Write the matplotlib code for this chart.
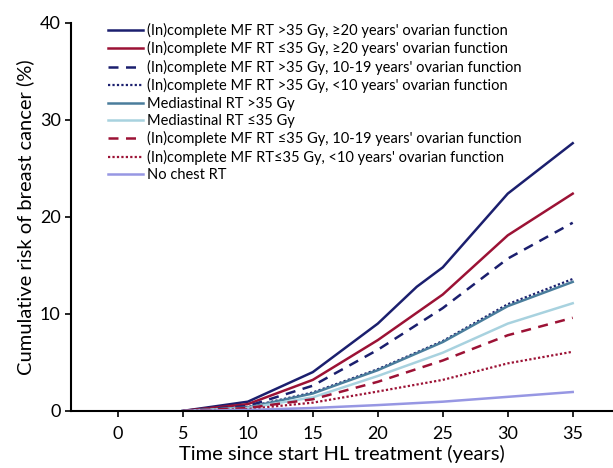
import matplotlib
matplotlib.use('Agg')
import matplotlib.pyplot as plt

plt.rcParams['font.family'] = ['Lato', 'DejaVu Sans']

# Data (years since start HL treatment vs cumulative risk %)
years = [5, 10, 15, 20, 25, 30, 35]
years_mf_hi = [5, 10, 15, 20, 23, 25, 30, 35]

mf_hi_20 = [0, 0.95, 4.0, 9.0, 12.8, 14.8, 22.4, 27.6]
mf_lo_20 = [0, 0.7, 3.2, 7.3, 12.0, 18.1, 22.4]
mf_hi_10_19 = [0, 0.5, 2.6, 6.3, 10.6, 15.7, 19.4]
mf_hi_lt10 = [0, 0.4, 1.9, 4.3, 7.2, 11.0, 13.6]
med_hi = [0, 0.35, 1.8, 4.2, 7.1, 10.8, 13.3]
med_lo = [0, 0.3, 1.4, 3.6, 6.0, 9.0, 11.1]
mf_lo_10_19 = [0, 0.3, 1.2, 3.0, 5.2, 7.8, 9.6]
mf_lo_lt10 = [0, 0.2, 0.85, 2.0, 3.2, 4.9, 6.1]
no_chest = [0, 0.1, 0.3, 0.6, 0.95, 1.45, 1.95]

labels = [
    "(In)complete MF RT >35 Gy, \u226520 years' ovarian function",
    "(In)complete MF RT \u226435 Gy, \u226520 years' ovarian function",
    "(In)complete MF RT >35 Gy, 10-19 years' ovarian function",
    "(In)complete MF RT >35 Gy, <10 years' ovarian function",
    "Mediastinal RT >35 Gy",
    "Mediastinal RT \u226435 Gy",
    "(In)complete MF RT \u226435 Gy, 10-19 years' ovarian function",
    "(In)complete MF RT\u226435 Gy, <10 years' ovarian function",
    "No chest RT",
]

navy = '#1b1f6e'
crimson = '#9c1235'

fig = plt.figure(figsize=(6.13, 4.68), dpi=100)
ax = fig.add_axes([0.116, 0.122, 0.884, 0.829])

ax.plot(years_mf_hi, mf_hi_20, color=navy, lw=1.8, label=labels[0])
ax.plot(years, mf_lo_20, color=crimson, lw=1.8, label=labels[1])
ax.plot(years, mf_hi_10_19, color=navy, lw=1.8, ls=(0, (4, 3)), label=labels[2])
ax.plot(years, mf_hi_lt10, color=navy, lw=1.6, ls=(0, (1, 1)), label=labels[3])
ax.plot(years, med_hi, color='#4a7d9c', lw=1.8, label=labels[4])
ax.plot(years, med_lo, color='#a8d2df', lw=1.8, label=labels[5])
ax.plot(years, mf_lo_10_19, color=crimson, lw=1.8, ls=(0, (4, 3)), label=labels[6])
ax.plot(years, mf_lo_lt10, color=crimson, lw=1.6, ls=(0, (1, 1)), label=labels[7])
ax.plot(years, no_chest, color='#9797e3', lw=1.8, label=labels[8])

ax.set_xlim(-3.6, 38.1)
ax.set_ylim(0, 40)
ax.set_xticks(range(0, 40, 5))
ax.set_yticks(range(0, 50, 10))
ax.spines['top'].set_visible(False)
ax.spines['right'].set_visible(False)
ax.spines['left'].set_linewidth(1.5)
ax.spines['bottom'].set_linewidth(1.5)
ax.tick_params(labelsize=13, width=1.2, length=4)
ax.tick_params(axis='x', pad=7)
ax.set_xlabel('Time since start HL treatment (years)', fontsize=14.5, labelpad=2)
ax.set_ylabel('Cumulative risk of breast cancer (%)', fontsize=14.5)

ax.legend(loc='upper left', bbox_to_anchor=(0.057, 1.015), frameon=False,
          fontsize=10.5, handlelength=2.4, handletextpad=0.3,
          labelspacing=0.23, borderaxespad=0.0)

fig.savefig('out.png', dpi=100)
